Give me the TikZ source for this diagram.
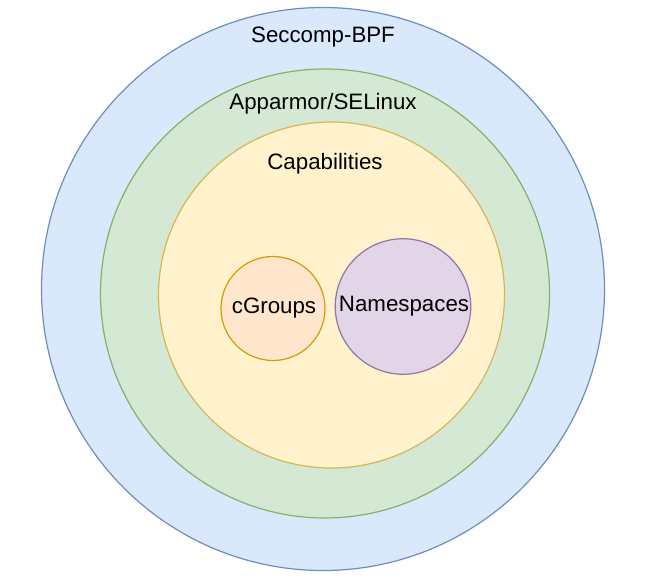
\documentclass[tikz,border=0pt]{standalone}
\usepackage{fontspec}
\setmainfont{Liberation Sans}
\definecolor{bluefill}{HTML}{DAE8FC}\definecolor{bluedraw}{HTML}{6C8EBF}
\definecolor{greenfill}{HTML}{D5E8D4}\definecolor{greendraw}{HTML}{82B366}
\definecolor{yellowfill}{HTML}{FFF2CC}\definecolor{yellowdraw}{HTML}{D6B656}
\definecolor{orangefill}{HTML}{FFE6CC}\definecolor{orangedraw}{HTML}{D79B00}
\definecolor{purplefill}{HTML}{E1D5E7}\definecolor{purpledraw}{HTML}{9673A6}
\tikzset{
  ring/.style={circle, inner sep=0pt, outer sep=0pt, line width=1.2pt},
  lbl/.style={inner sep=0pt, anchor=base, font=\fontsize{22.3}{26}\selectfont, text=black}
}
\begin{document}
\begin{tikzpicture}[x=1pt,y=-1pt]
\useasboundingbox (0,0) rectangle (650,583);
\node[ring, fill=bluefill, draw=bluedraw, minimum size=563pt] (seccomp) at (323,289) {};
\node[ring, fill=greenfill, draw=greendraw, minimum size=449pt] (apparmor) at (325,293.5) {};
\node[ring, fill=yellowfill, draw=yellowdraw, minimum size=346pt] (caps) at (331.5,295) {};
\node[ring, fill=orangefill, draw=orangedraw, minimum size=104pt] (cgroups) at (273,308.5) {};
\node[ring, fill=purplefill, draw=purpledraw, minimum size=135.5pt] (ns) at (403,306.5) {};
\node[lbl] (tseccomp) at (323,42.3) {Seccomp-BPF};
\node[lbl] (tapparmor) at (323,110) {Apparmor/SELinux};
\node[lbl] (tcaps) at (325,169) {Capabilities};
\node[lbl] (tcgroups) at (274,313) {cGroups};
\node[lbl] (tns) at (404,311.7) {Namespaces};
\end{tikzpicture}
\end{document}
